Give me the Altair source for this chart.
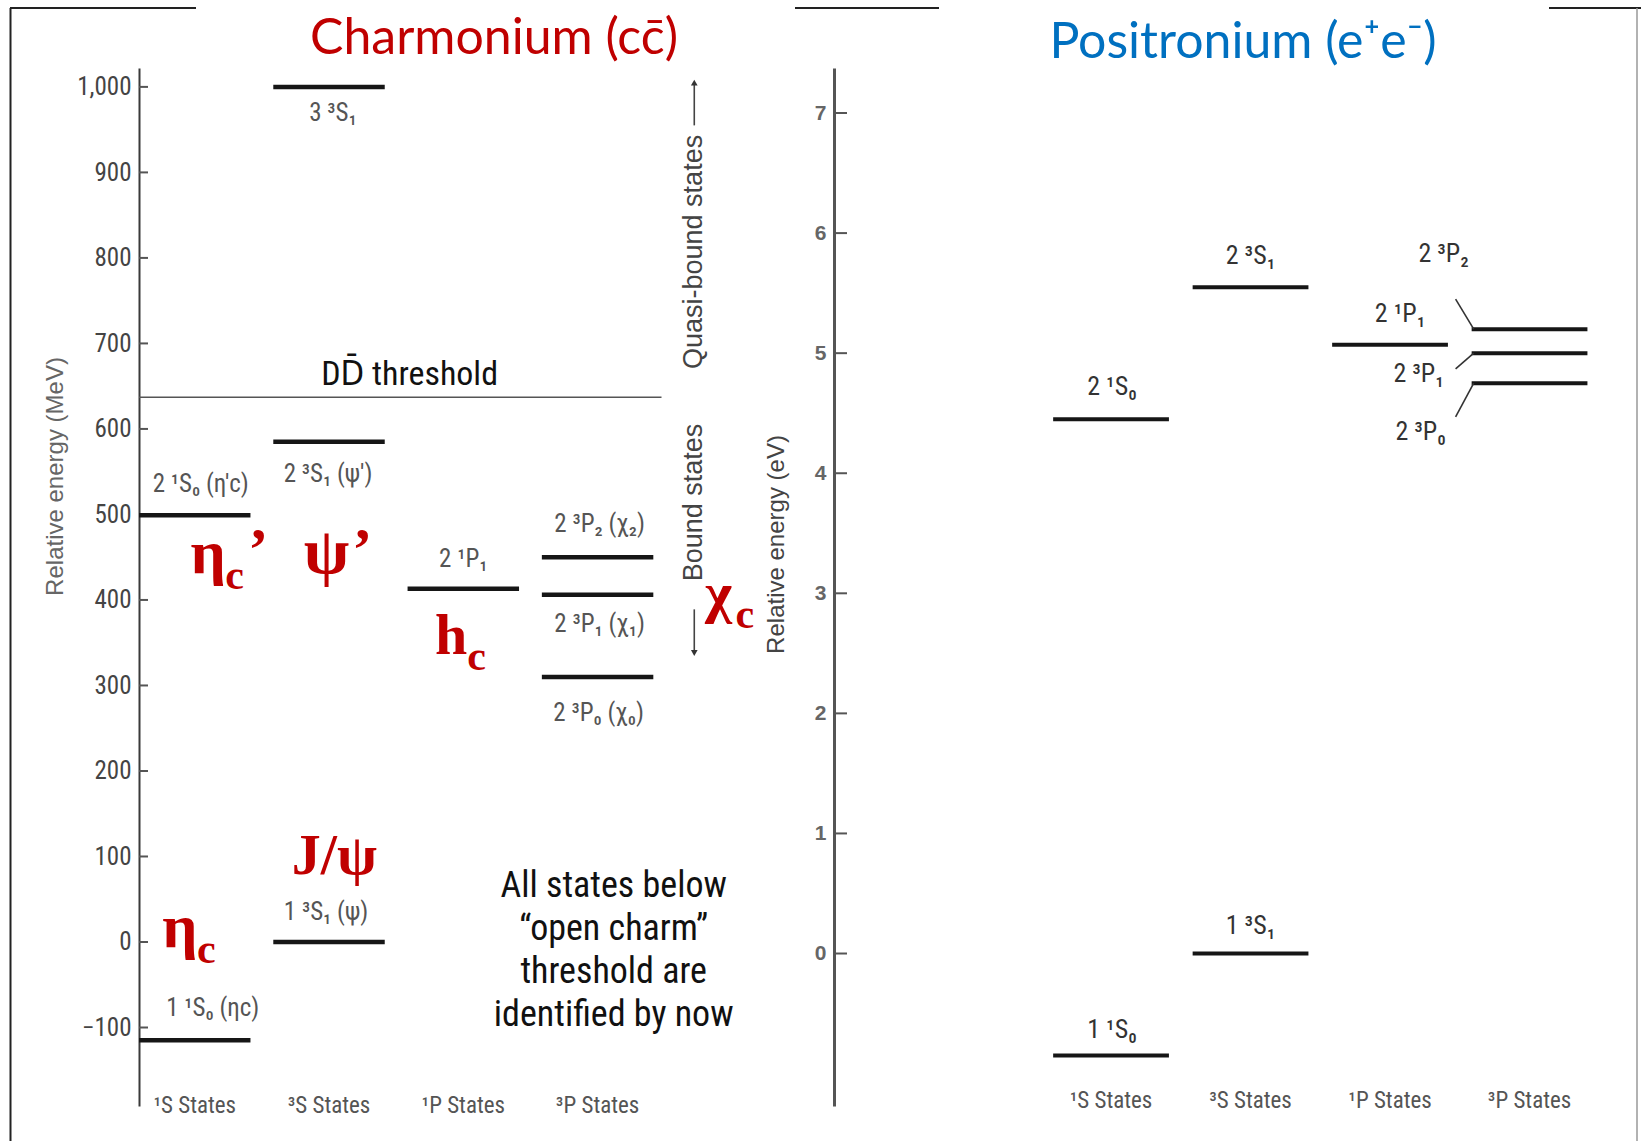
import altair as alt
import pandas as pd

# ---------------- data ----------------
columns = ["1S", "3S", "1P", "3P"]
column_labels = ["¹S States", "³S States", "¹P States", "³P States"]

# Charmonium (MeV, relative to J/psi)
charm_level_names = ["3 ³S₁", "2 ¹S₀ (η′c)", "2 ³S₁ (ψ′)", "2 ¹P₁", "2 ³P₂ (χ₂)",
                     "2 ³P₁ (χ₁)", "2 ³P₀ (χ₀)", "1 ³S₁ (ψ)", "1 ¹S₀ (ηc)"]
charm_level_column = ["3S", "1S", "3S", "1P", "3P", "3P", "3P", "3S", "1S"]
charm_level_mev = [1000, 499, 585, 413, 450, 406, 310, 0, -115]
charm_threshold_mev = [637]
charm_ticks = [-100, 0, 100, 200, 300, 400, 500, 600, 700, 800, 900, 1000]

# red particle names (glyph, subscript, prime) with anchor (column units, MeV)
ann_main = ["η", "ψ", "h", "χ", "J/ψ", "η"]
ann_sub = ["c", "", "c", "c", "", "c"]
ann_prime = ["’", "’", "", "", "", ""]
ann_x = [0.10, 0.98, 1.91, 3.90, 1.04, -0.11]
ann_y = [431, 431, 337, 386, 80, -6]

# Positronium (eV, relative to 1 3S1)
pos_level_names = ["1 ¹S₀", "1 ³S₁", "2 ¹S₀", "2 ³S₁", "2 ¹P₁", "2 ³P₂", "2 ³P₁", "2 ³P₀"]
pos_level_column = ["1S", "3S", "1S", "3S", "1P", "3P", "3P", "3P"]
pos_level_ev = [-0.85, 0.0, 4.45, 5.55, 5.07, 5.20, 5.00, 4.75]
pos_ticks = [0, 1, 2, 3, 4, 5, 6, 7]
pos_split_names = ["2 ³P₂", "2 ³P₁", "2 ³P₀"]
pos_split_level_ev = [5.20, 5.00, 4.75]
pos_split_from_ev = [5.45, 4.87, 4.47]

# ---------------- styles ----------------
W, H = 1502, 1038
NARROW = "Liberation Sans Narrow, Arial Narrow, Roboto Condensed, DejaVu Sans Condensed, sans-serif"
SANS = "Liberation Sans, Arial, sans-serif"
SERIF = "Liberation Serif, Times New Roman, DejaVu Serif, serif"
TITLEF = "Lato, Open Sans, sans-serif"
RED = "#C00000"
BLUE = "#0070C0"
HALF = 0.415

charm_x = alt.Scale(domain=[-0.415, 10.77], nice=False, zero=False)
charm_y = alt.Scale(domain=[-191.8, 1022.1], nice=False, zero=False)
pos_x = alt.Scale(domain=[-6.968, 3.799], nice=False, zero=False)
pos_y = alt.Scale(domain=[-1.270, 7.375], nice=False, zero=False)

charm_axis = alt.Axis(
    values=charm_ticks, labelExpr="format(datum.value, ',')", ticks=False, grid=False,
    domainColor="#3a3a3a", domainWidth=2,
    labelFont=NARROW, labelFontSize=25, labelColor="#444", labelPadding=8,
    title="Relative energy (MeV)", titleFont=SANS, titleFontSize=24,
    titleFontWeight="normal", titleColor="#666", titleX=-84, titleY=408,
    titleAngle=270, titleAlign="center", titleBaseline="middle")
pos_axis = alt.Axis(
    values=pos_ticks, labelExpr="format(datum.value, 'd')", ticks=False, grid=False, orient="left", offset=-695,
    domainColor="#555", domainWidth=3,
    labelFont=SANS, labelFontSize=21, labelFontWeight="bold", labelColor="#666", labelPadding=8,
    title="Relative energy (eV)", titleFont=SANS, titleFontSize=24,
    titleFontWeight="normal", titleColor="#444", titleX=-58, titleY=476,
    titleAngle=270, titleAlign="center", titleBaseline="middle")


def cx(f):
    return alt.X(f, scale=charm_x, axis=None)


def cy(f):
    return alt.Y(f, scale=charm_y, axis=charm_axis)


def px(f):
    return alt.X(f, scale=pos_x, axis=None)


def py(f):
    return alt.Y(f, scale=pos_y, axis=pos_axis)


col_index = {c: i for i, c in enumerate(columns)}

charm_label_dx = [4, 6, -1, 0, 2, 2, 1, -3, 18]
charm_label_dy = [26, -31, 32, -30, -33, 29, 36, -30, -32]
pos_label_dx = [1, 0, 1, 0, 10]
pos_label_dy = [-26, -28, -32, -31, -31]
split_label_dx = [-12, -37, -35]
split_label_dy = [-45, 5, 15]


def one():
    return pd.DataFrame({"k": [0]})


def px_text(text, x, y, size, color, font, weight="normal", align="center", baseline="alphabetic", angle=0):
    return alt.Chart(one()).mark_text(
        fontSize=size, color=color, font=font, fontWeight=weight, align=align,
        baseline=baseline, angle=angle
    ).encode(x=alt.value(x), y=alt.value(y), text=alt.value(text))


def px_rule(x, x2, y, y2, color="#222", width=2):
    return alt.Chart(one()).mark_rule(color=color, strokeWidth=width).encode(
        x=alt.value(x), x2=alt.value(x2), y=alt.value(y), y2=alt.value(y2))


# ================= Charmonium =================
cl = []
cl.append(alt.Chart(pd.DataFrame({"v": charm_ticks})).mark_rule(color="#555", strokeWidth=2).encode(
    y=cy("v:Q"), x=alt.value(0), x2=alt.value(9)))

cdf = pd.DataFrame({"name": charm_level_names, "col": charm_level_column, "e": charm_level_mev})
cdf["i"] = cdf["col"].map(col_index)
cdf["x0"] = cdf["i"] - HALF
cdf["x1"] = cdf["i"] + HALF

# threshold line
tdf = pd.DataFrame({"e": charm_threshold_mev, "x0": [-0.415], "x1": [3.476], "xm": [1.6]})
cl.append(alt.Chart(tdf).mark_rule(color="#555", strokeWidth=1.6).encode(
    x=cx("x0:Q"), x2="x1:Q", y=cy("e:Q")))
cl.append(alt.Chart(tdf).mark_text(fontSize=34, font=NARROW, color="#111", baseline="alphabetic", dy=-12).encode(
    x=cx("xm:Q"), y=cy("e:Q"), text=alt.value("DD̄ threshold")))

# level bars
cl.append(alt.Chart(cdf).mark_rule(color="#161616", strokeWidth=4.5).encode(
    x=cx("x0:Q"), x2="x1:Q", y=cy("e:Q")))

# level labels
for k in range(len(cdf)):
    cl.append(alt.Chart(cdf.iloc[[k]]).mark_text(
        fontSize=25, font=NARROW, color="#555", baseline="middle",
        dx=charm_label_dx[k], dy=charm_label_dy[k]).encode(
        x=cx("i:Q"), y=cy("e:Q"), text="name:N"))

# column labels
coldf = pd.DataFrame({"i": list(range(len(columns))), "lab": column_labels})
cl.append(alt.Chart(coldf).mark_text(fontSize=23, font=NARROW, color="#555", baseline="middle").encode(
    x=cx("i:Q"), y=alt.value(1038), text="lab:N"))

# quasi-bound / bound arrows
arr = pd.DataFrame({"x": [3.72, 3.72], "a": [955, 389], "b": [1005, 338]})
cl.append(alt.Chart(arr).mark_rule(color="#444", strokeWidth=1.6).encode(
    x=cx("x:Q"), y=cy("a:Q"), y2="b:Q"))
cl.append(alt.Chart(arr.iloc[[0]]).mark_point(shape="triangle-up", filled=True, size=45, color="#333", opacity=1).encode(
    x=cx("x:Q"), y=cy("b:Q")))
cl.append(alt.Chart(arr.iloc[[1]]).mark_point(shape="triangle-down", filled=True, size=45, color="#333", opacity=1).encode(
    x=cx("x:Q"), y=cy("b:Q")))
vt = pd.DataFrame({"x": [3.72], "e": [807], "t": ["Quasi-bound states"]})
cl.append(alt.Chart(vt).mark_text(fontSize=27, font=SANS, color="#444", angle=270, baseline="middle").encode(
    x=cx("x:Q"), y=cy("e:Q"), text="t:N"))
vt2 = pd.DataFrame({"x": [3.72], "e": [514], "t": ["Bound states"]})
cl.append(alt.Chart(vt2).mark_text(fontSize=27, font=SANS, color="#444", angle=270, baseline="middle").encode(
    x=cx("x:Q"), y=cy("e:Q"), text="t:N"))

# "All states below..." note
note = pd.DataFrame({"x": [3.12], "e": [66]})
cl.append(alt.Chart(note).mark_text(fontSize=36, font=NARROW, color="#111", baseline="middle", lineHeight=43).encode(
    x=cx("x:Q"), y=cy("e:Q"),
    text=alt.value(["All states below", "“open charm”", "threshold are", "identified by now"])))

# red particle names
adf = pd.DataFrame({"main": ann_main, "sub": ann_sub, "prime": ann_prime, "x": ann_x, "e": ann_y})
main_size = [62, 66, 58, 58, 58, 62]
sub_dx = [17, 0, 16, 17, 0, 17]
prime_dx = [40, 26, 0, 0, 0, 0]
for k in range(len(adf)):
    row = adf.iloc[[k]]
    cl.append(alt.Chart(row).mark_text(fontSize=main_size[k], font=SERIF, fontWeight="bold", color=RED,
                                       baseline="alphabetic", align="center").encode(
        x=cx("x:Q"), y=cy("e:Q"), text="main:N"))
    if ann_sub[k]:
        cl.append(alt.Chart(row).mark_text(fontSize=42, font=SERIF, fontWeight="bold", color=RED,
                                           baseline="alphabetic", align="left", dx=sub_dx[k], dy=16).encode(
            x=cx("x:Q"), y=cy("e:Q"), text="sub:N"))
    if ann_prime[k]:
        cl.append(alt.Chart(row).mark_text(fontSize=60, font=SERIF, fontWeight="bold", color=RED,
                                           baseline="alphabetic", align="left", dx=prime_dx[k], dy=-4).encode(
            x=cx("x:Q"), y=cy("e:Q"), text="prime:N"))

# title and frame
cl.append(px_text("Charmonium (cc̄)", 355, -14, 50, RED, TITLEF))
cl.append(px_rule(-128.5, -128.5, -60, 1073))
cl.append(px_rule(-129, 57, -60, -60))

charm = alt.layer(*cl)

# ================= Positronium =================
pl = []
pl.append(alt.Chart(pd.DataFrame({"v": pos_ticks})).mark_rule(color="#555", strokeWidth=2).encode(
    y=py("v:Q"), x=alt.value(695), x2=alt.value(708)))

pdf = pd.DataFrame({"name": pos_level_names, "col": pos_level_column, "e": pos_level_ev})
pdf["i"] = pdf["col"].map(col_index)
pdf["x0"] = pdf["i"] - HALF
pdf["x1"] = pdf["i"] + HALF
pl.append(alt.Chart(pdf).mark_rule(color="#161616", strokeWidth=4).encode(
    x=px("x0:Q"), x2="x1:Q", y=py("e:Q")))

for k in range(5):
    pl.append(alt.Chart(pdf.iloc[[k]]).mark_text(
        fontSize=26, font=NARROW, color="#333", baseline="middle",
        dx=pos_label_dx[k], dy=pos_label_dy[k]).encode(
        x=px("i:Q"), y=py("e:Q"), text="name:N"))

sdf = pd.DataFrame({"name": pos_split_names, "a": pos_split_from_ev, "b": pos_split_level_ev})
sdf["x0"] = col_index["3P"] - 0.53
sdf["x1"] = col_index["3P"] - 0.40
pl.append(alt.Chart(sdf).mark_rule(color="#333", strokeWidth=1.6).encode(
    x=px("x0:Q"), x2="x1:Q", y=py("a:Q"), y2="b:Q"))
for k in range(len(sdf)):
    pl.append(alt.Chart(sdf.iloc[[k]]).mark_text(
        fontSize=26, font=NARROW, color="#333", baseline="middle",
        dx=split_label_dx[k], dy=split_label_dy[k]).encode(
        x=px("x0:Q"), y=py("a:Q"), text="name:N"))

pl.append(alt.Chart(coldf).mark_text(fontSize=23, font=NARROW, color="#555", baseline="middle").encode(
    x=px("i:Q"), y=alt.value(1033), text="lab:N"))

pl.append(px_text("Positronium (e⁺e⁻)", 1104, -10, 50, BLUE, TITLEF))
pl.append(px_rule(656, 800, -60, -60))
pl.append(px_rule(1410, 1502, -60, -60))
pl.append(px_rule(1498, 1498, -60, 1073, color="#999", width=1.5))

pos = alt.layer(*pl)

chart = alt.layer(charm, pos).resolve_scale(x="independent", y="independent").properties(
    width=W, height=H,
    autosize=alt.AutoSizeParams(type="none"),
    padding={"left": 139, "top": 68, "right": 0, "bottom": 35},
    background="white",
).configure_view(strokeWidth=0).configure_axis(
    titleFontSize=24, titleFont=SANS, titleFontWeight="normal", titleColor="#555"
)

chart.save("out.html", embed_options={"renderer": "svg", "actions": False})
